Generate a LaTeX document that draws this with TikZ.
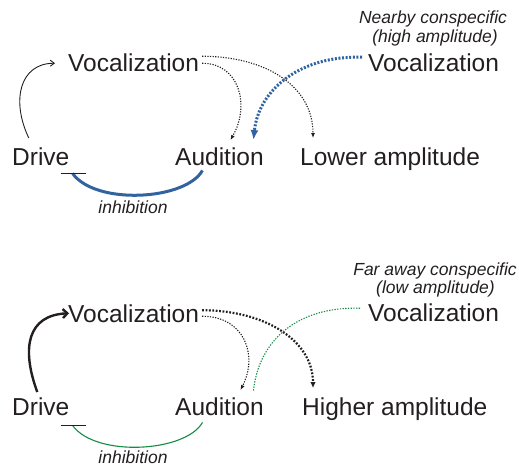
\documentclass[tikz,border=0pt]{standalone}
\usepackage{fontspec}
\setmainfont{Liberation Sans}
\usetikzlibrary{arrows.meta,calc}
\definecolor{txt}{RGB}{35,31,32}
\definecolor{inhblue}{RGB}{49,99,160}
\definecolor{inhgreen}{RGB}{20,140,70}
\tikzset{
  lbl/.style={inner sep=0pt,anchor=base west,text=txt,font=\fontsize{24.5}{26}\selectfont},
  captxt/.style={inner sep=0pt,anchor=base,text=txt,font=\fontsize{17.5}{19}\selectfont\itshape},
  dotthin/.style={draw=txt,line width=1.1pt,dash pattern=on 1.2pt off 1.4pt,-{Latex[length=5pt,width=4pt]}},
  dotthick/.style={draw=txt,line width=2.2pt,dash pattern=on 1.8pt off 1.6pt,-{Latex[length=6pt,width=5.5pt]}},
  dotblue/.style={draw=inhblue,line width=3pt,dash pattern=on 2pt off 1.6pt,-{Latex[length=10pt,width=8pt]}},
  dotgreen/.style={draw=inhgreen,line width=1.1pt,dash pattern=on 1.3pt off 1.4pt},
  drivethin/.style={draw=txt,line width=0.9pt,-{Straight Barb[length=4pt,width=6pt]}},
  drivethick/.style={draw=txt,line width=2.4pt,-{Straight Barb[length=4.5pt,width=9pt]}},
  inhbar/.style={draw=txt,line width=0.9pt}
}
\begin{document}
\begin{tikzpicture}[x=1pt,y=-1pt]
\useasboundingbox (0,0) rectangle (519,468);
% ---------- top panel ----------
\node[lbl] (voc1) at (68,72) {Vocalization};
\node[lbl] (drive1) at (12,165) {Drive};
\node[lbl] (aud1) at (175,165) {Audition};
\node[lbl] (low1) at (300,165) {Lower amplitude};
\node[lbl] (vocR1) at (368,72) {Vocalization};
\node[captxt] (near1) at (433,24) {Nearby conspecific};
\node[captxt] (high1) at (435,43) {(high amplitude)};
\node[captxt] (inh1) at (133,213) {inhibition};
\coordinate (bar1) at ($(drive1.south east)+(3,8)$);

\draw[drivethin] ($(drive1.north)+(-12,-9)$) .. controls ($(drive1.north)+(-30,-47)$) and ($(voc1.west)+(-48,0)$) .. ($(voc1.west)+(-13,0)$);
\draw[dotthin] ($(voc1.east)+(3,-7)$) .. controls ($(voc1.east)+(65,-7)$) and ($(low1.north west)+(13,-62)$) .. ($(low1.north west)+(13,-9)$);
\draw[dotthin] ($(voc1.east)+(3,0)$) .. controls ($(voc1.east)+(40,0)$) and ($(aud1.north)+(31,-42)$) .. ($(aud1.north)+(11,-7)$);
\draw[dotblue] ($(vocR1.west)+(-6,-6)$) .. controls ($(vocR1.west)+(-68,-8)$) and ($(aud1.north)+(39,-57)$) .. ($(aud1.north)+(34,-7)$);
\draw[draw=inhblue,line width=3pt] ($(aud1.south)+(-17,5)$) .. controls ($(aud1.south)+(-34,35)$) and ($(bar1)+(23,32)$) .. (bar1);
\draw[inhbar] ($(bar1)+(-12,0)$) -- ($(bar1)+(13,0)$);

% ---------- bottom panel ----------
\node[lbl] (voc2) at (68,322) {Vocalization};
\node[lbl] (drive2) at (12,415) {Drive};
\node[lbl] (aud2) at (175,415) {Audition};
\node[lbl] (high2) at (302,415) {Higher amplitude};
\node[lbl] (vocR2) at (368,321) {Vocalization};
\node[captxt] (far2) at (435,275) {Far away conspecific};
\node[captxt] (low2) at (435.5,293) {(low amplitude)};
\node[captxt] (inh2) at (133,463) {inhibition};
\coordinate (bar2) at ($(drive2.south east)+(3,10)$);

\draw[drivethick] ($(drive2.north)+(-3.5,-5)$) .. controls ($(drive2.north)+(-20,-50)$) and ($(voc2.west)+(-40,2)$) .. ($(voc2.west)+(1,0)$);
\draw[dotthick] ($(voc2.east)+(3,-3)$) .. controls ($(voc2.east)+(65,-3)$) and ($(high2.north west)+(11,-57)$) .. ($(high2.north west)+(11,-9)$);
\draw[dotthin] ($(voc2.east)+(3,3)$) .. controls ($(voc2.east)+(45,3)$) and ($(aud2.north)+(39,-42)$) .. ($(aud2.north)+(21,-7)$);
\draw[dotgreen] ($(vocR2.west)+(-8,-4)$) .. controls ($(vocR2.west)+(-70,-6)$) and ($(aud2.north)+(39,-57)$) .. ($(aud2.north)+(34,-6)$);
\draw[draw=inhgreen,line width=1.1pt] ($(aud2.south)+(-17,7)$) .. controls ($(aud2.south)+(-34,37)$) and ($(bar2)+(23,32)$) .. (bar2);
\draw[inhbar] ($(bar2)+(-12,0)$) -- ($(bar2)+(13,0)$);
\end{tikzpicture}
\end{document}
